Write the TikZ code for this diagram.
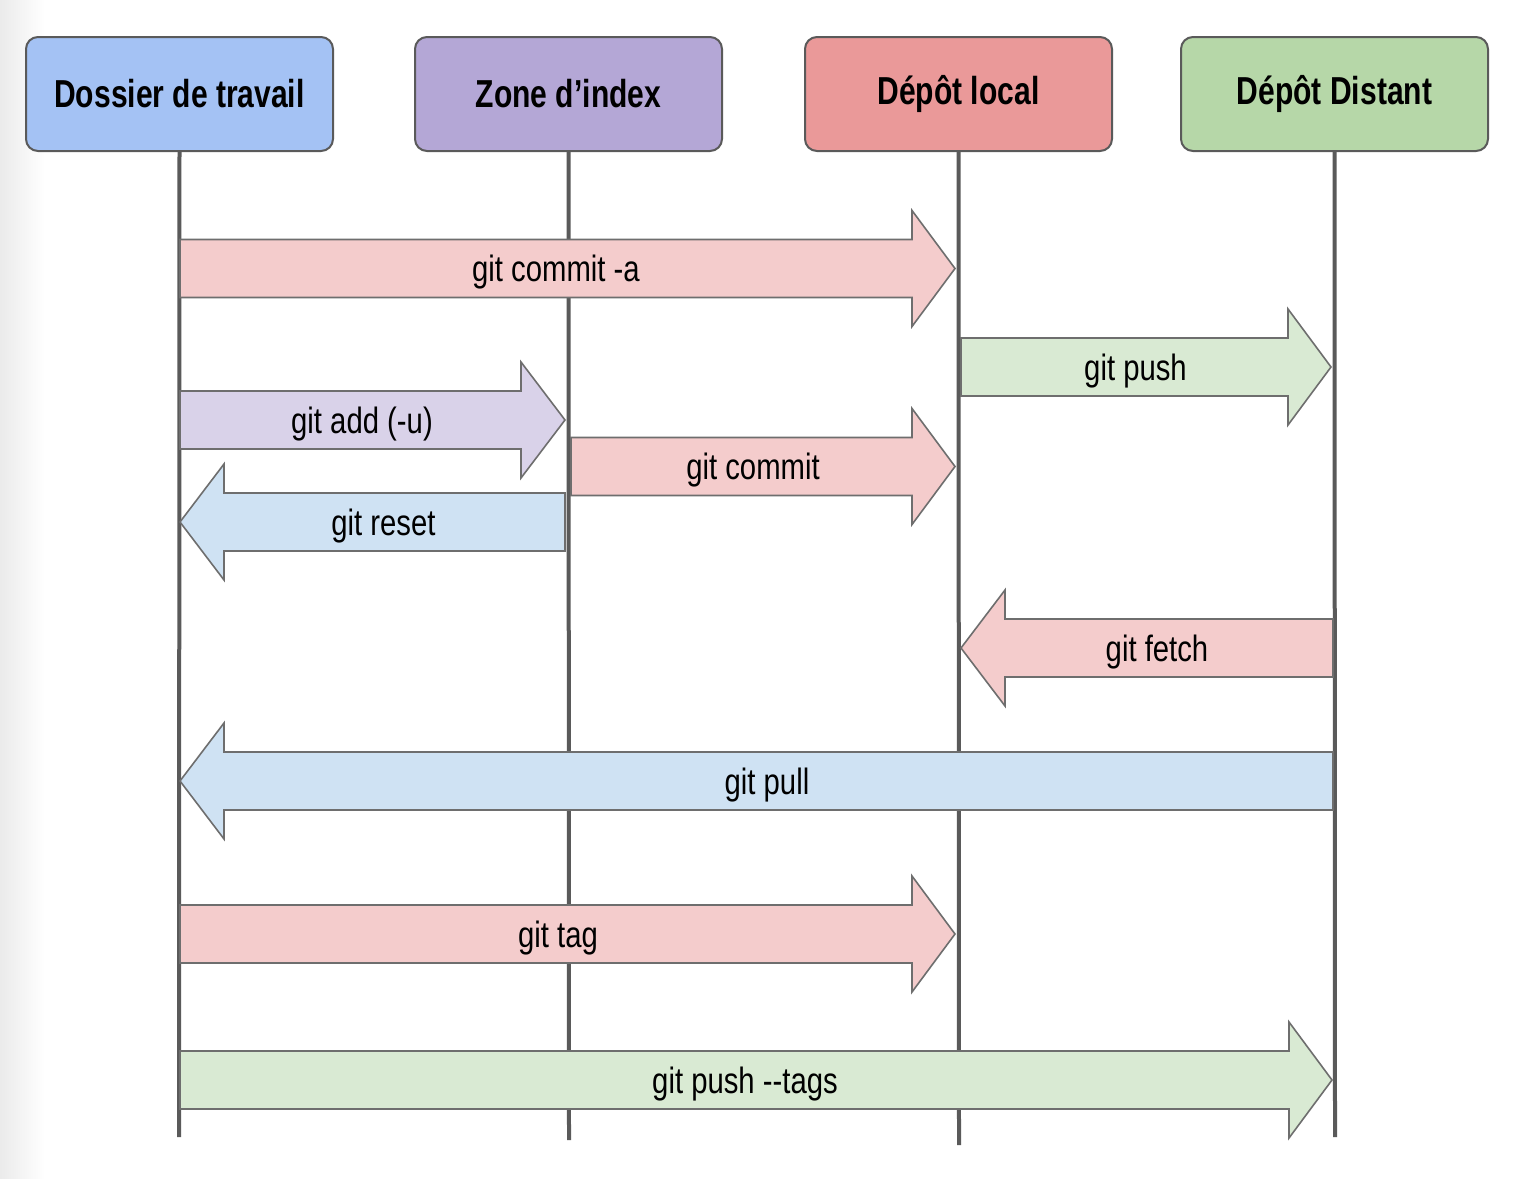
\documentclass[tikz,border=0pt]{standalone}
\usepackage{fontspec}
\setmainfont{Liberation Sans}
\usepackage{graphicx}
\definecolor{bxblue}{HTML}{A4C2F4}
\definecolor{bxpurple}{HTML}{B4A7D6}
\definecolor{bxred}{HTML}{EA9999}
\definecolor{bxgreen}{HTML}{B6D7A8}
\definecolor{arpink}{HTML}{F4CCCC}
\definecolor{argreen}{HTML}{D9EAD3}
\definecolor{arpurple}{HTML}{D9D2E9}
\definecolor{arblue}{HTML}{CFE2F3}
\definecolor{lifegray}{HTML}{5A5A5A}
\definecolor{outgray}{HTML}{6E6E6E}
\newcommand{\blockarrow}[8]{%
  \draw[arrowline, fill=#2] (#3,#6-29) -- (#4,#6-29) -- (#4,#6-58) -- (#5,#6) -- (#4,#6+58) -- (#4,#6+29) -- (#3,#6+29) -- cycle;
  \node[lbl] (#1) at (#8,#6+4) {\scalebox{0.8}[1]{#7}};
}
\begin{document}
\begin{tikzpicture}[x=0.5pt,y=-0.5pt,
  header/.style={draw=lifegray, line width=1pt, rounded corners=6pt,
    minimum width=153.5pt, minimum height=57pt, inner sep=0pt,
    font=\fontsize{19.5}{22}\selectfont\bfseries},
  lifeline/.style={draw=lifegray, line width=2pt},
  arrowline/.style={draw=outgray, line width=0.8pt, line join=miter},
  lbl/.style={inner sep=0pt, font=\fontsize{18.3}{21}\selectfont}]
\useasboundingbox (0,0) rectangle (1520,1178);
\fill[white] (0,0) rectangle (1520,1178);
\shade[left color=black!8, right color=white] (0,0) rectangle (45,1178);
% headers
\node[header, fill=bxblue] (h1) at (179.5,94) {\scalebox{0.77}[1]{Dossier de travail}};
\node[header, fill=bxpurple] (h2) at (568.5,94) {\scalebox{0.77}[1]{Zone d’index}};
\node[header, fill=bxred] (h3) at (958.5,94) {\scalebox{0.77}[1]{Dépôt local}};
\node[header, fill=bxgreen] (h4) at (1334.5,94) {\scalebox{0.77}[1]{Dépôt Distant}};
% lifeline ends
\coordinate (e1) at (179,1137);
\coordinate (e2) at (569,1140);
\coordinate (e3) at (959,1145);
\coordinate (e4) at (1335,1137);
\draw[lifeline] (h1.south) -- (e1);
\draw[lifeline] (h2.south) -- (e2);
\draw[lifeline] (h3.south) -- (e3);
\draw[lifeline] (h4.south) -- (e4);
% arrows
\blockarrow{a1}{arpink}{180}{912}{955}{268.5}{git commit -a}{556}
\blockarrow{a2}{argreen}{961}{1288}{1331}{367}{git push}{1135.5}
\blockarrow{a3}{arpurple}{180}{521}{565}{420}{git add (-u)}{362}
\blockarrow{a4}{arpink}{571}{912}{955}{466.5}{git commit}{753}
\blockarrow{a5}{arblue}{565}{224}{180}{522}{git reset}{383.5}
\blockarrow{a6}{arpink}{1333}{1005}{961}{648}{git fetch}{1157}
\blockarrow{a7}{arblue}{1333}{224}{180}{781}{git pull}{767}
\blockarrow{a8}{arpink}{180}{912}{955}{934}{git tag}{558}
\blockarrow{a9}{argreen}{180}{1289}{1332}{1080}{git push -{}-tags}{745}
\end{tikzpicture}
\end{document}
